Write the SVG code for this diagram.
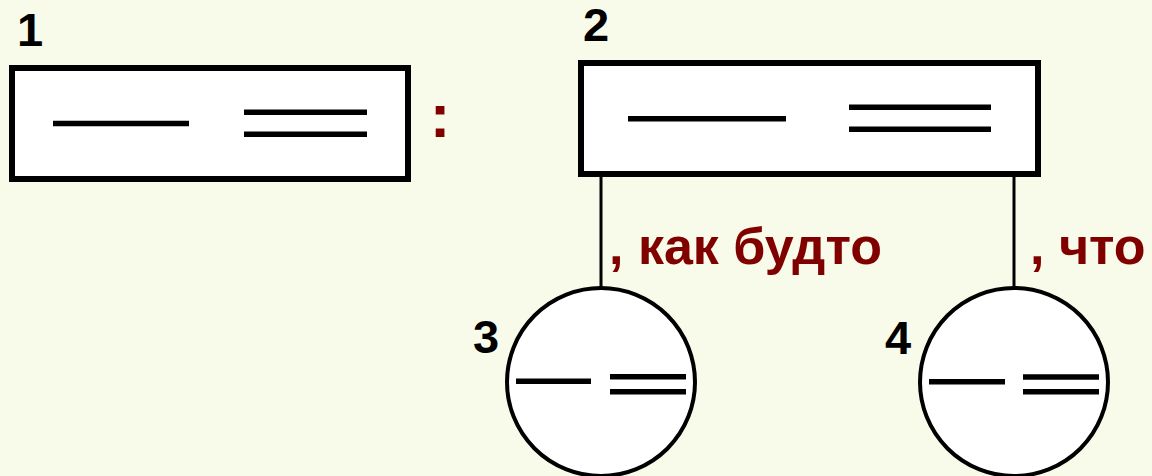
<svg xmlns="http://www.w3.org/2000/svg" width="1152" height="476" viewBox="0 0 1152 476">
<style>
.box{fill:#ffffff;stroke:#000000;stroke-width:6}
.circ{fill:#ffffff;stroke:#000000;stroke-width:4}
.bar{stroke:#000000;stroke-width:5.5;fill:none}
.conn{stroke:#000000;stroke-width:3;fill:none}
.num{font-family:"Liberation Sans",Arial,sans-serif;font-weight:bold;font-size:47px;fill:#000000}
.lbl{font-family:"Liberation Sans",Arial,sans-serif;font-weight:bold;font-size:52px;fill:#800000}
</style>
<rect x="0" y="0" width="1152" height="476" fill="#F8FBE9"/>
<g id="connectors">
<line class="conn" x1="601" y1="176" x2="601" y2="288"/>
<line class="conn" x1="1014" y1="176" x2="1014" y2="288"/>
</g>
<g id="node1">
<rect class="box" x="12" y="68" width="396" height="111"/>
<line class="bar" x1="53" y1="123.5" x2="189" y2="123.5"/>
<line class="bar" x1="244" y1="112.3" x2="367" y2="112.3"/>
<line class="bar" x1="244" y1="134.3" x2="367" y2="134.3"/>
<text class="num" x="17" y="45.7">1</text>
</g>
<g id="colon">
<text x="440" y="137" text-anchor="middle" style="font-family:'Liberation Sans',Arial,sans-serif;font-weight:bold;font-size:62px;fill:#800000">:</text>
</g>
<g id="node2">
<rect class="box" x="581" y="63" width="457" height="111"/>
<line class="bar" x1="628" y1="118.7" x2="786" y2="118.7"/>
<line class="bar" x1="849" y1="107.3" x2="991" y2="107.3"/>
<line class="bar" x1="849" y1="129.3" x2="991" y2="129.3"/>
<text class="num" x="583" y="40.7">2</text>
</g>
<g id="node3">
<circle class="circ" cx="601" cy="382" r="94"/>
<line class="bar" x1="516" y1="381.3" x2="591" y2="381.3"/>
<line class="bar" x1="610" y1="376.7" x2="686" y2="376.7"/>
<line class="bar" x1="610" y1="391.7" x2="686" y2="391.7"/>
<text class="num" x="473" y="353.3">3</text>
</g>
<g id="node4">
<circle class="circ" cx="1014" cy="382" r="94"/>
<line class="bar" x1="929" y1="381.7" x2="1005" y2="381.7"/>
<line class="bar" x1="1023" y1="377" x2="1099" y2="377"/>
<line class="bar" x1="1023" y1="391.7" x2="1099" y2="391.7"/>
<text class="num" x="885" y="354">4</text>
</g>
<g id="labels">
<text class="lbl" x="609" y="264">, как будто</text>
<text class="lbl" x="1030" y="264">, что</text>
</g>
</svg>
